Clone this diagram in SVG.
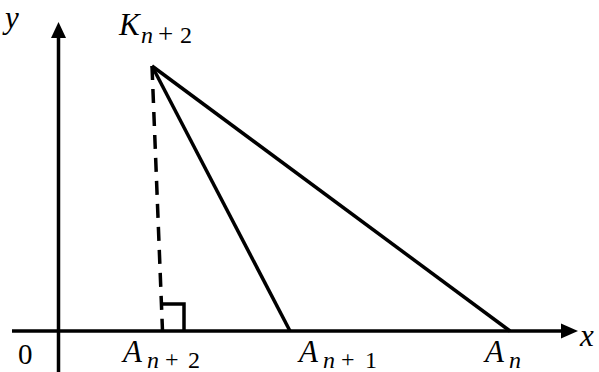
<svg xmlns="http://www.w3.org/2000/svg" width="599" height="372" viewBox="0 0 599 372">
<style>
.ln{stroke:#000;stroke-width:3.5;fill:none;stroke-linecap:butt}
.dash{stroke-dasharray:14 9}
.t{font-family:"Liberation Serif",serif;font-style:italic;font-size:31px;fill:#000}
.s{font-family:"Liberation Serif",serif;font-style:italic;font-size:24px;fill:#000}
.u{font-family:"Liberation Serif",serif;font-size:29px;fill:#000}
.su{font-family:"Liberation Serif",serif;font-size:24px;fill:#000}
.pl{font-family:"Liberation Serif",serif;font-size:27px;fill:#000}
</style>
<g id="axes">
<line class="ln" x1="12" y1="331" x2="563" y2="331"/>
<polygon points="578,331 561,323.5 561,338.5" fill="#000"/>
<line class="ln" x1="58.5" y1="372" x2="58.5" y2="36"/>
<polygon points="58.5,22 51,38 66,38" fill="#000"/>
<text class="t" x="5" y="28">y</text>
<text class="t" x="580" y="346">x</text>
<text class="u" x="18" y="364">0</text>
</g>
<g id="connectors">
<line class="ln dash" x1="152" y1="66" x2="162.5" y2="331"/>
<line class="ln" x1="152" y1="66" x2="290" y2="331"/>
<line class="ln" x1="152" y1="66" x2="510" y2="331"/>
<polyline class="ln" points="162.5,304 184,304 184,331"/>
</g>
<g id="K">
<text class="t" x="119" y="35">K</text>
<text class="s" x="141" y="43">n</text>
<text class="pl" x="158" y="43">+</text>
<text class="su" x="180" y="43">2</text>
</g>
<g id="A_n2">
<text class="t" x="123" y="362">A</text>
<text class="s" x="147" y="368">n</text>
<text class="su" x="165" y="367">+</text>
<text class="su" x="188" y="368">2</text>
</g>
<g id="A_n1">
<text class="t" x="299" y="362">A</text>
<text class="s" x="323" y="368">n</text>
<text class="su" x="341" y="367">+</text>
<text class="su" x="365" y="368">1</text>
</g>
<g id="A_n">
<text class="t" x="485" y="362">A</text>
<text class="s" x="509" y="368">n</text>
</g>
</svg>
